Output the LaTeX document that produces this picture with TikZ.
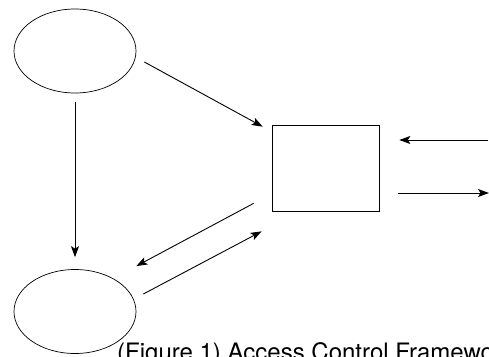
\documentclass[tikz,border=0pt]{standalone}
\usepackage{fontspec}
\setmainfont{TeX Gyre Heros}
\usetikzlibrary{shapes.geometric,arrows.meta}

\tikzset{
  party/.style={ellipse, draw=black, line width=0.7pt, minimum width=122pt, minimum height=84pt, inner sep=0pt},
  gate/.style={rectangle, draw=black, line width=0.7pt, minimum width=107pt, minimum height=86pt, inner sep=0pt},
  flow/.style={-{Stealth[length=11pt,width=8pt,inset=2.5pt]}, line width=0.9pt}
}

\begin{document}
\begin{tikzpicture}[x=1pt, y=-1pt]
\useasboundingbox (0,0) rectangle (489,356);

\node (subject) [party] at (75,51) {};
\node (object) [party] at (75,311.5) {};
\node (monitor) [gate] at (325.5,168) {};

\coordinate (request) at (488,140);
\coordinate (reply) at (489,193);

\node (caption) [anchor=base west, inner sep=0pt, font=\fontsize{24}{28}\selectfont] at (117,360) {(Figure 1) Access Control Framework};

\draw[flow] ([shift={(8,11)}]subject.east) -- ([shift={(-9,2)}]monitor.north west);
\draw[flow] ([shift={(0,9)}]subject.south) -- ([shift={(0,-12)}]object.north);
\draw[flow] ([shift={(-18,-8)}]monitor.south west) -- ([shift={(18,-15.5)}]object.north east);
\draw[flow] ([shift={(7,-17.5)}]object.east) -- ([shift={(-10,20)}]monitor.south west);
\draw[flow] (request) -- ([shift={(20,-28)}]monitor.east);
\draw[flow] ([shift={(19,25)}]monitor.east) -- (reply);

\end{tikzpicture}
\end{document}
